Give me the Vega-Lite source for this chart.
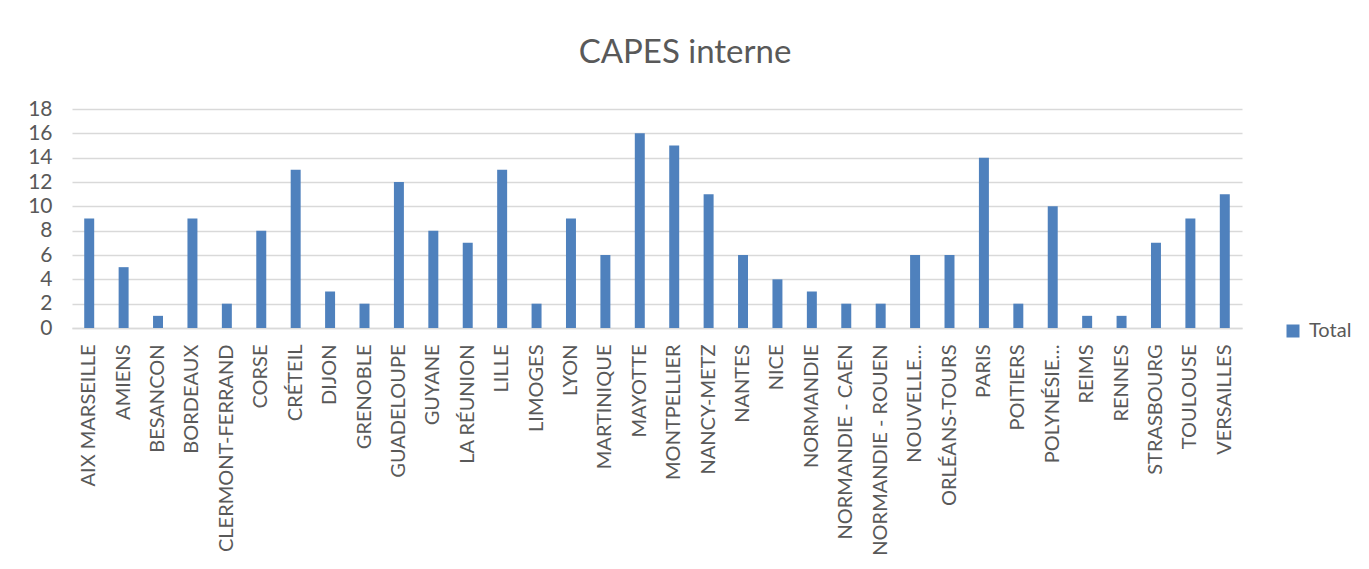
{
  "$schema": "https://vega.github.io/schema/vega-lite/v6.json",
  "autosize": {"type": "none"},
  "padding": {"left": 72, "top": 109, "right": 127, "bottom": 241},
  "width": 1170,
  "height": 219,
  "background": "white",
  "title": {
    "text": "CAPES interne",
    "font": "Lato",
    "fontSize": 33,
    "fontWeight": "normal",
    "color": "#595959",
    "anchor": "middle",
    "dx": 28,
    "offset": 28
  },
  "config": {
    "view": {"stroke": null},
    "font": "Lato"
  },
  "data": {
    "values": [
      {"academie": "AIX MARSEILLE", "value": 9},
      {"academie": "AMIENS", "value": 5},
      {"academie": "BESANCON", "value": 1},
      {"academie": "BORDEAUX", "value": 9},
      {"academie": "CLERMONT-FERRAND", "value": 2},
      {"academie": "CORSE", "value": 8},
      {"academie": "CRÉTEIL", "value": 13},
      {"academie": "DIJON", "value": 3},
      {"academie": "GRENOBLE", "value": 2},
      {"academie": "GUADELOUPE", "value": 12},
      {"academie": "GUYANE", "value": 8},
      {"academie": "LA RÉUNION", "value": 7},
      {"academie": "LILLE", "value": 13},
      {"academie": "LIMOGES", "value": 2},
      {"academie": "LYON", "value": 9},
      {"academie": "MARTINIQUE", "value": 6},
      {"academie": "MAYOTTE", "value": 16},
      {"academie": "MONTPELLIER", "value": 15},
      {"academie": "NANCY-METZ", "value": 11},
      {"academie": "NANTES", "value": 6},
      {"academie": "NICE", "value": 4},
      {"academie": "NORMANDIE", "value": 3},
      {"academie": "NORMANDIE - CAEN", "value": 2},
      {"academie": "NORMANDIE - ROUEN", "value": 2},
      {"academie": "NOUVELLE…", "value": 6},
      {"academie": "ORLÉANS-TOURS", "value": 6},
      {"academie": "PARIS", "value": 14},
      {"academie": "POITIERS", "value": 2},
      {"academie": "POLYNÉSIE…", "value": 10},
      {"academie": "REIMS", "value": 1},
      {"academie": "RENNES", "value": 1},
      {"academie": "STRASBOURG", "value": 7},
      {"academie": "TOULOUSE", "value": 9},
      {"academie": "VERSAILLES", "value": 11}
    ]
  },
  "mark": {"type": "bar", "color": "#4F81BD"},
  "encoding": {
    "x": {
      "field": "academie",
      "type": "nominal",
      "sort": null,
      "title": null,
      "scale": {"paddingInner": 0.71, "paddingOuter": 0.355},
      "axis": {
        "labelAngle": -90,
        "labelFont": "Lato",
        "labelFontSize": 20,
        "labelColor": "#595959",
        "labelPadding": 16,
        "labelLimit": 300,
        "ticks": false,
        "domainColor": "#d9d9d9",
        "domainWidth": 1.5
      }
    },
    "y": {
      "field": "value",
      "type": "quantitative",
      "title": null,
      "scale": {"domain": [0, 18]},
      "axis": {
        "values": [0, 2, 4, 6, 8, 10, 12, 14, 16, 18],
        "labelFont": "Lato",
        "labelFontSize": 21,
        "labelColor": "#595959",
        "labelPadding": 20,
        "ticks": false,
        "domain": false,
        "gridColor": "#d9d9d9",
        "gridWidth": 1.5
      }
    },
    "fill": {
      "datum": "Total",
      "type": "nominal",
      "scale": {"range": ["#4F81BD"]},
      "legend": {
        "title": null,
        "orient": "none",
        "legendX": 1211,
        "legendY": 212,
        "symbolType": "square",
        "symbolSize": 169,
        "symbolStrokeWidth": 0,
        "labelFont": "Lato",
        "labelFontSize": 20,
        "labelColor": "#595959",
        "labelOffset": 6
      }
    }
  }
}
